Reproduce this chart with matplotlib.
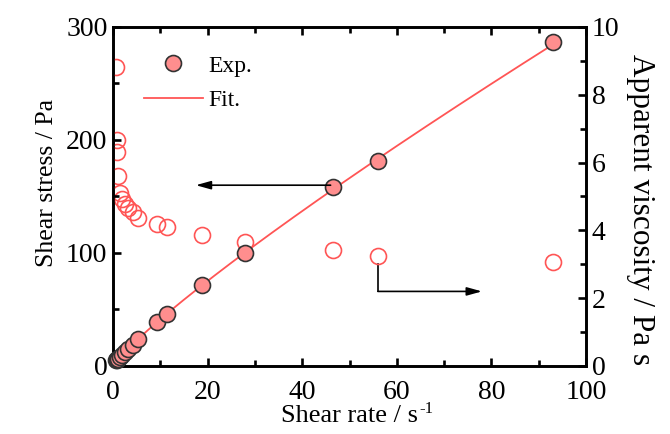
import numpy as np
import matplotlib
matplotlib.use("Agg")
import matplotlib.pyplot as plt
from matplotlib.ticker import MultipleLocator

plt.rcParams['font.family'] = ['Liberation Serif', 'DejaVu Serif']
plt.rcParams['axes.unicode_minus'] = False

# Data
shear_rate = [0.6, 0.8, 0.9, 1.1, 1.5, 1.9, 2.5, 3.2, 4.2, 5.3,
              9.3, 11.4, 18.8, 27.9, 46.5, 56.0, 93.0]
shear_stress = [5.0, 5.5, 6.0, 6.5, 8.0, 9.5, 12.0, 15.0, 19.0, 24.0,
                39.0, 46.0, 71.7, 100.0, 158.4, 181.4, 286.5]
viscosity = [8.82, 6.68, 6.30, 5.59, 5.09, 4.94, 4.79, 4.65, 4.53, 4.38,
             4.18, 4.09, 3.85, 3.65, 3.42, 3.24, 3.06]

# Power-law fit parameters (tau = K * rate^n)
fit_K = 5.64
fit_n = 0.865
fit_rate_max = 93.0

fig = plt.figure(figsize=(6.70, 4.34), dpi=100)
ax = fig.add_axes([0.1687, 0.1567, 0.7059, 0.7811])
ax2 = ax.twinx()

fill_c = '#ff8e8e'
edge_c = '#333333'
red_c = '#ff5555'

xf = np.linspace(0, fit_rate_max, 300)
ax.plot(xf, fit_K * xf ** fit_n, color=red_c, lw=1.3, zorder=2, label='Fit.')
ax.plot(shear_rate, shear_stress, 'o', ms=11.5, mfc=fill_c, mec=edge_c,
        mew=1.2, zorder=3, label='Exp.', clip_on=False)

ax2.plot(shear_rate, viscosity, 'o', ms=11.5, mfc='none', mec=red_c,
         mew=1.2, zorder=3)

ax.set_xlim(0, 100)
ax.set_ylim(0, 300)
ax2.set_ylim(0, 10)

ax.xaxis.set_major_locator(MultipleLocator(20))
ax.xaxis.set_minor_locator(MultipleLocator(10))
ax.yaxis.set_major_locator(MultipleLocator(100))
ax.yaxis.set_minor_locator(MultipleLocator(50))
ax2.yaxis.set_major_locator(MultipleLocator(2))
ax2.yaxis.set_minor_locator(MultipleLocator(1))

for a in (ax, ax2):
    for s in a.spines.values():
        s.set_linewidth(1.9)
ax.tick_params(axis='x', which='both', direction='in', top=True, width=1.9,
               labelsize=20, pad=10)
ax.tick_params(axis='y', which='both', direction='in', right=False,
               width=1.9, labelsize=20, pad=4)
ax.tick_params(which='major', length=6)
ax.tick_params(which='minor', length=4)
ax2.tick_params(axis='y', which='both', direction='in', width=1.9,
                labelsize=20, pad=4)
ax2.tick_params(which='major', length=6)
ax2.tick_params(which='minor', length=4)

ax.set_xlabel('Shear rate / s', fontsize=19, labelpad=0)
ax.set_ylabel('Shear stress / Pa', fontsize=18.5, labelpad=6)
ax.yaxis.label.set_y(0.54)
ax2.set_ylabel('Apparent viscosity / Pa s', fontsize=22.5, rotation=270,
               labelpad=26)
ax2.yaxis.label.set_y(0.46)

handles = ax.get_lines()[::-1]
leg = ax.legend(handles=handles, loc='upper left',
                bbox_to_anchor=(0.02, 0.98), frameon=False, fontsize=17,
                handlelength=2.5, handletextpad=0.25, labelspacing=0.55)

# Arrows
ax.annotate('', xy=(17.5, 160), xytext=(46.0, 160),
            arrowprops=dict(arrowstyle='-|>,head_length=0.9,head_width=0.25',
                            color='black', lw=1.2, shrinkA=0, shrinkB=0))
ax2.plot([56.0, 56.0], [3.02, 2.2], color='black', lw=1.2)
ax2.annotate('', xy=(78.0, 2.2), xytext=(56.0, 2.2),
             arrowprops=dict(arrowstyle='-|>,head_length=0.9,head_width=0.25',
                             color='black', lw=1.2, shrinkA=0, shrinkB=0))

ax.set_zorder(ax2.get_zorder() + 1)
ax.patch.set_visible(False)

# superscript "-1" next to the x label
fig.canvas.draw()
bb = ax.xaxis.label.get_window_extent(fig.canvas.get_renderer())
inv = fig.transFigure.inverted()
x1, y1 = inv.transform((bb.x1 + 1, bb.y1 + 4))
fig.text(x1, y1, '-1', fontsize=12, ha='left', va='top')

fig.savefig('out.png', dpi=100)
